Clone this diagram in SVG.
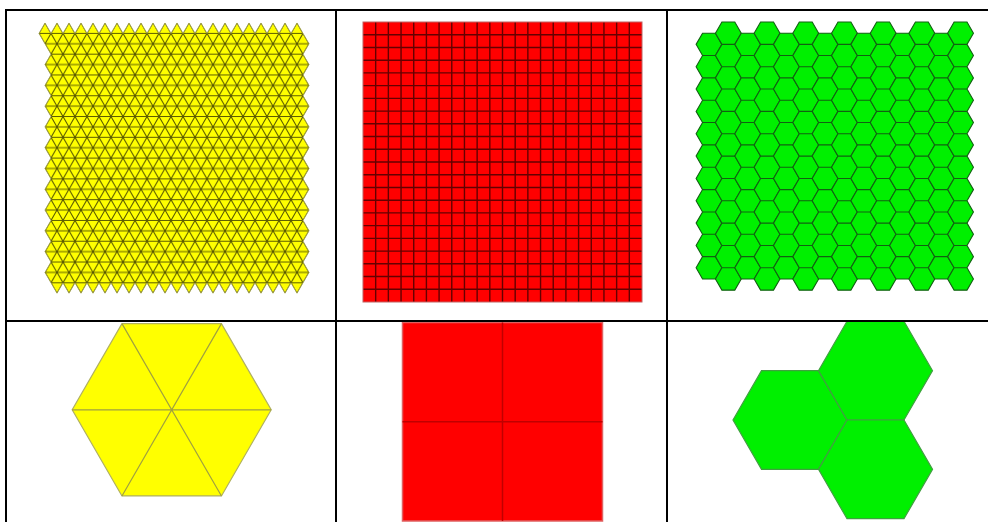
<svg xmlns="http://www.w3.org/2000/svg" xmlns:xlink="http://www.w3.org/1999/xlink" width="988" height="522" viewBox="0 0 988 522">
<style>
.tl{stroke:#000;stroke-width:2;fill:none}
.tri-line{stroke:#5a5a00;stroke-width:1.1;fill:none}
.yel{fill:#ffff00}
.yel-edge{fill:none;stroke:#a0a050;stroke-width:1}
.red{fill:#ff0000}
.red-line{stroke:#640000;stroke-width:1.4;fill:none}
.grn{fill:#00f000;stroke:#126012;stroke-width:1.1}
.big-yel{fill:#ffff00;stroke:#b0b060;stroke-width:1.2}
.big-yel-line{stroke:#a0a040;stroke-width:1.2;fill:none}
.big-red{fill:#ff0000;stroke:#e06060;stroke-width:1.5}
.big-red-line{stroke:#c00000;stroke-width:1.5;fill:none}
.big-grn{fill:#00f000;stroke:#40a040;stroke-width:1.2}
</style>
<defs>
<pattern id="triPat" patternUnits="userSpaceOnUse" x="9" y="23" width="12" height="20.7846">
<path class="tri-line" d="M0,0H12M0,10.3923H12M0,20.7846H12M0,0L6,10.3923L0,20.7846M12,0L6,10.3923L12,20.7846"/>
</pattern>
<path id="triShape" d="M39,33.392l6-10.392 6 10.392 6-10.392 6 10.392 6-10.392 6 10.392 6-10.392 6 10.392 6-10.392 6 10.392 6-10.392 6 10.392 6-10.392 6 10.392 6-10.392 6 10.392 6-10.392 6 10.392 6-10.392 6 10.392 6-10.392 6 10.392 6-10.392 6 10.392 6-10.392 6 10.392 6-10.392 6 10.392 6-10.392 6 10.392 6-10.392 6 10.392 6-10.392 6 10.392 6-10.392 6 10.392 6-10.392 6 10.392 6-10.392 6 10.392 6-10.392 6 10.392 6-10.392 6 10.392 l6 10.392 l-6 10.392 6 10.392 -6 10.392 6 10.392 -6 10.392 6 10.392 -6 10.392 6 10.392 -6 10.392 6 10.392 -6 10.392 6 10.392 -6 10.392 6 10.392 -6 10.392 6 10.392 -6 10.392 6 10.392 -6 10.392 6 10.392 -6 10.392 6 10.392 l-6 10.392 l-6 10.392 -6-10.392 -6 10.392 -6-10.392 -6 10.392 -6-10.392 -6 10.392 -6-10.392 -6 10.392 -6-10.392 -6 10.392 -6-10.392 -6 10.392 -6-10.392 -6 10.392 -6-10.392 -6 10.392 -6-10.392 -6 10.392 -6-10.392 -6 10.392 -6-10.392 -6 10.392 -6-10.392 -6 10.392 -6-10.392 -6 10.392 -6-10.392 -6 10.392 -6-10.392 -6 10.392 -6-10.392 -6 10.392 -6-10.392 -6 10.392 -6-10.392 -6 10.392 -6-10.392 -6 10.392 -6-10.392 -6 10.392 -6-10.392 l-6-10.392 l6-10.392 -6-10.392 6-10.392 -6-10.392 6-10.392 -6-10.392 6-10.392 -6-10.392 6-10.392 -6-10.392 6-10.392 -6-10.392 6-10.392 -6-10.392 6-10.392 -6-10.392 6-10.392 -6-10.392 6-10.392 -6-10.392 6-10.392 -6-10.392z"/>
<path id="col12" class="grn" d="M12.9,0l-6.45,11.172h-12.9l-6.45-11.172l6.45-11.172h12.9z
m0,22.343l-6.45,11.172h-12.9l-6.45-11.172l6.45-11.172h12.9z
m0,22.343l-6.45,11.172h-12.9l-6.45-11.172l6.45-11.172h12.9z
m0,22.343l-6.45,11.172h-12.9l-6.45-11.172l6.45-11.172h12.9z
m0,22.343l-6.45,11.172h-12.9l-6.45-11.172l6.45-11.172h12.9z
m0,22.343l-6.45,11.172h-12.9l-6.45-11.172l6.45-11.172h12.9z
m0,22.343l-6.45,11.172h-12.9l-6.45-11.172l6.45-11.172h12.9z
m0,22.343l-6.45,11.172h-12.9l-6.45-11.172l6.45-11.172h12.9z
m0,22.343l-6.45,11.172h-12.9l-6.45-11.172l6.45-11.172h12.9z
m0,22.343l-6.45,11.172h-12.9l-6.45-11.172l6.45-11.172h12.9z
m0,22.343l-6.45,11.172h-12.9l-6.45-11.172l6.45-11.172h12.9z
m0,22.343l-6.45,11.172h-12.9l-6.45-11.172l6.45-11.172h12.9z"/>
<path id="col11" class="grn" d="M12.9,0l-6.45,11.172h-12.9l-6.45-11.172l6.45-11.172h12.9z
m0,22.343l-6.45,11.172h-12.9l-6.45-11.172l6.45-11.172h12.9z
m0,22.343l-6.45,11.172h-12.9l-6.45-11.172l6.45-11.172h12.9z
m0,22.343l-6.45,11.172h-12.9l-6.45-11.172l6.45-11.172h12.9z
m0,22.343l-6.45,11.172h-12.9l-6.45-11.172l6.45-11.172h12.9z
m0,22.343l-6.45,11.172h-12.9l-6.45-11.172l6.45-11.172h12.9z
m0,22.343l-6.45,11.172h-12.9l-6.45-11.172l6.45-11.172h12.9z
m0,22.343l-6.45,11.172h-12.9l-6.45-11.172l6.45-11.172h12.9z
m0,22.343l-6.45,11.172h-12.9l-6.45-11.172l6.45-11.172h12.9z
m0,22.343l-6.45,11.172h-12.9l-6.45-11.172l6.45-11.172h12.9z
m0,22.343l-6.45,11.172h-12.9l-6.45-11.172l6.45-11.172h12.9z"/>
</defs>
<rect width="988" height="522" fill="#fff"/>

<g id="triangle-tiling">
<use href="#triShape" class="yel"/>
<use href="#triShape" fill="url(#triPat)"/>
<use href="#triShape" class="yel-edge"/>
</g>

<g id="square-tiling">
<rect class="red" x="363" y="22" width="279" height="280"/>
<path class="red-line" d="M375.68,22V302M388.36,22V302M401.05,22V302M413.73,22V302M426.41,22V302M439.09,22V302M451.77,22V302M464.45,22V302M477.14,22V302M489.82,22V302M502.5,22V302M515.18,22V302M527.86,22V302M540.55,22V302M553.23,22V302M565.91,22V302M578.59,22V302M591.27,22V302M603.95,22V302M616.64,22V302M629.32,22V302
M363,34.73H642M363,47.45H642M363,60.18H642M363,72.91H642M363,85.64H642M363,98.36H642M363,111.09H642M363,123.82H642M363,136.55H642M363,149.27H642M363,162H642M363,174.73H642M363,187.45H642M363,200.18H642M363,212.91H642M363,225.64H642M363,238.36H642M363,251.09H642M363,263.82H642M363,276.55H642M363,289.27H642"/>
<rect x="363" y="22" width="279" height="280" fill="none" stroke="#c06060" stroke-width="1"/>
</g>

<g id="hexagon-tiling">
<use href="#col11" x="709" y="44.37"/>
<use href="#col12" x="728.35" y="33.2"/>
<use href="#col11" x="747.7" y="44.37"/>
<use href="#col12" x="767.05" y="33.2"/>
<use href="#col11" x="786.4" y="44.37"/>
<use href="#col12" x="805.75" y="33.2"/>
<use href="#col11" x="825.1" y="44.37"/>
<use href="#col12" x="844.45" y="33.2"/>
<use href="#col11" x="863.8" y="44.37"/>
<use href="#col12" x="883.15" y="33.2"/>
<use href="#col11" x="902.5" y="44.37"/>
<use href="#col12" x="921.85" y="33.2"/>
<use href="#col11" x="941.2" y="44.37"/>
<use href="#col12" x="960.55" y="33.2"/>
</g>

<g id="triangle-prototile">
<polygon class="big-yel" points="271.2,409.8 221.45,495.97 121.95,495.97 72.2,409.8 121.95,323.63 221.45,323.63"/>
<path class="big-yel-line" d="M72.2,409.8H271.2M121.95,323.63L221.45,495.97M221.45,323.63L121.95,495.97"/>
</g>

<g id="square-prototile">
<rect class="big-red" x="402.5" y="322.5" width="200" height="198.5"/>
<path class="big-red-line" d="M502.5,322.5V521M402.5,421.7H602.5"/>
</g>

<g id="hexagon-prototile">
<polygon class="big-grn" points="847,420 818.5,469.36 761.5,469.36 733,420 761.5,370.64 818.5,370.64"/>
<polygon class="big-grn" points="932.5,370.64 904,420 847,420 818.5,370.64 847,321.28 904,321.28"/>
<polygon class="big-grn" points="932.5,469.36 904,518.72 847,518.72 818.5,469.36 847,420 904,420"/>
</g>

<g id="table">
<path class="tl" d="M5,10H988M5,321H988M6,9V522M336,9V522M667,9V522"/>
</g>
</svg>
